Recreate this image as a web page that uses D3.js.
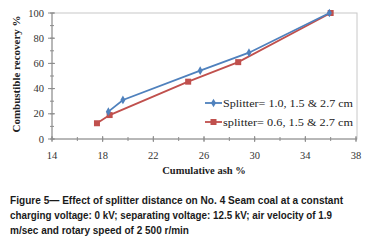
<!DOCTYPE html>
<html><head><meta charset="utf-8">
<script src="https://cdn.jsdelivr.net/npm/d3@7"></script>
<style>html,body{margin:0;padding:0;background:#fff;}svg{display:block;}</style>
</head><body>
<svg id="c" width="369" height="240"></svg>
<script>
const seriesNames = ["Splitter= 1.0, 1.5 & 2.7 cm", "splitter= 0.6, 1.5 & 2.7  cm"];
const ashA = [18.45, 19.6, 25.7, 29.55, 35.9];
const recA = [21.7, 31, 54.2, 68.5, 100];
const ashB = [17.55, 18.55, 24.75, 28.7, 36];
const recB = [12.5, 19, 45.5, 61, 100];
const xTicks = [14, 18, 22, 26, 30, 34, 38];
const yTicks = [0, 20, 40, 60, 80, 100];
const captionLines = [
  "Figure 5\u2014 Effect of splitter distance on No. 4 Seam coal at a constant",
  "charging voltage: 0 kV; separating voltage: 12.5 kV; air velocity of 1.9",
  "m/sec and rotary speed of 2 500 r/min"
];

const svg = d3.select("#c");
const L = 52, R = 357, T = 13, B = 139;
const x = d3.scaleLinear().domain([14, 38]).range([L, 356]);
const y = d3.scaleLinear().domain([0, 100]).range([B, T]);
const axisCol = "#8c8c8c";

svg.append("rect").attr("x", L).attr("y", T).attr("width", R - L).attr("height", B - T)
  .attr("fill", "none").attr("stroke", "#c8c8c8").attr("stroke-width", 1);

const xa = svg.append("g").attr("transform", `translate(0,${B})`);
xa.append("line").attr("x1", L).attr("x2", R).attr("stroke", axisCol);
const xMinor = d3.range(14, 38.01, 2);
xa.selectAll(".xm").data(xMinor).join("line")
  .attr("x1", d => x(d)).attr("x2", d => x(d)).attr("y1", -2).attr("y2", 2).attr("stroke", axisCol);
xa.selectAll(".xM").data(xTicks).join("line")
  .attr("x1", d => x(d)).attr("x2", d => x(d)).attr("y1", -3).attr("y2", 3).attr("stroke", axisCol);
xa.selectAll("text").data(xTicks).join("text")
  .attr("x", d => x(d)).attr("y", 20).attr("text-anchor", "middle")
  .attr("font-family", "Liberation Serif, Times New Roman, serif").attr("font-size", 10.5).attr("fill", "#333")
  .text(d => d);

const ya = svg.append("g").attr("transform", `translate(${L},0)`);
ya.append("line").attr("y1", T).attr("y2", B).attr("stroke", axisCol);
const yMinor = d3.range(0, 100.01, 10);
ya.selectAll(".ym").data(yMinor).join("line")
  .attr("y1", d => y(d)).attr("y2", d => y(d)).attr("x1", -2).attr("x2", 2).attr("stroke", axisCol);
ya.selectAll(".yM").data(yTicks).join("line")
  .attr("y1", d => y(d)).attr("y2", d => y(d)).attr("x1", -4).attr("x2", 3).attr("stroke", axisCol);
ya.selectAll("text").data(yTicks).join("text")
  .attr("x", -8).attr("y", d => y(d) + 3.5).attr("text-anchor", "end")
  .attr("font-family", "Liberation Serif, Times New Roman, serif").attr("font-size", 10.5).attr("fill", "#333")
  .text(d => d);

svg.append("text").attr("x", 204).attr("y", 174).attr("text-anchor", "middle")
  .attr("font-family", "Liberation Serif, Times New Roman, serif").attr("font-weight", "bold")
  .attr("font-size", 10.5).attr("fill", "#222").text("Cumulative ash %");
svg.append("text").attr("transform", "translate(20,74) rotate(-90)").attr("text-anchor", "middle")
  .attr("font-family", "Liberation Serif, Times New Roman, serif").attr("font-weight", "bold")
  .attr("font-size", 11).attr("fill", "#222").text("Combustible recovery %");

const colA = "#4f81bd", colB = "#c0504d";
const line = d3.line().x(d => x(d[0])).y(d => y(d[1]));
const dataB = ashB.map((v, i) => [v, recB[i]]);
const dataA = ashA.map((v, i) => [v, recA[i]]);
svg.append("path").datum(dataB).attr("d", line).attr("fill", "none").attr("stroke", colB).attr("stroke-width", 1.8);
svg.selectAll(".mb").data(dataB).join("rect")
  .attr("x", d => x(d[0]) - 3).attr("y", d => y(d[1]) - 3).attr("width", 6).attr("height", 6).attr("fill", colB);
svg.append("path").datum(dataA).attr("d", line).attr("fill", "none").attr("stroke", colA).attr("stroke-width", 1.8);
const diamond = d3.symbol().type(d3.symbolDiamond).size(22);
svg.selectAll(".ma").data(dataA).join("path")
  .attr("transform", d => `translate(${x(d[0])},${y(d[1])})`).attr("d", diamond).attr("fill", colA);

const leg = [{c: colA, t: seriesNames[0], y: 103, m: "d"}, {c: colB, t: seriesNames[1], y: 122, m: "s"}];
leg.forEach(l => {
  svg.append("line").attr("x1", 205).attr("x2", 222).attr("y1", l.y).attr("y2", l.y).attr("stroke", l.c).attr("stroke-width", 1.8);
  if (l.m === "d") svg.append("path").attr("transform", `translate(213.5,${l.y})`).attr("d", diamond).attr("fill", l.c);
  else svg.append("rect").attr("x", 210.5).attr("y", l.y - 3).attr("width", 6).attr("height", 6).attr("fill", l.c);
  svg.append("text").attr("x", 223).attr("y", l.y + 3.5)
    .attr("font-family", "Liberation Serif, Times New Roman, serif").attr("font-size", 10.5).attr("fill", "#222")
    .attr("textLength", 130).attr("lengthAdjust", "spacingAndGlyphs").text(l.t);
});

const capLens = [333, 322, null];
svg.selectAll(".cap").data(captionLines).join("text")
  .attr("x", 10).attr("y", (d, i) => 204 + i * 15)
  .attr("font-family", "Liberation Sans, Arial, sans-serif").attr("font-weight", "bold")
  .attr("font-size", 10).attr("fill", "#1a1a1a")
  .each(function(d, i) { if (capLens[i]) d3.select(this).attr("textLength", capLens[i]).attr("lengthAdjust", "spacingAndGlyphs"); })
  .text(d => d);
</script>
</body></html>
